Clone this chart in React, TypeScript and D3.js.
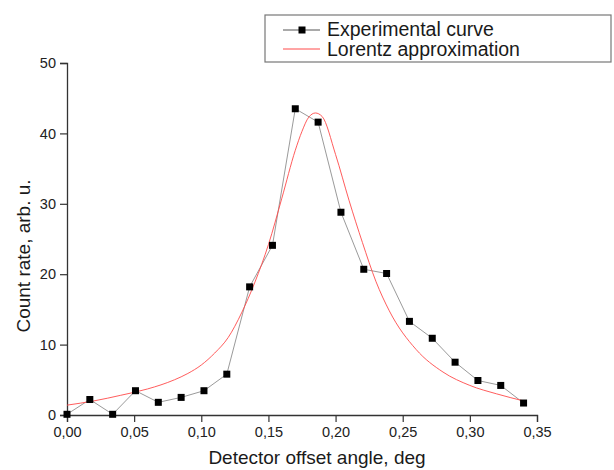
import React, { useEffect, useRef } from "react";
import * as d3 from "d3";

const WIDTH = 614;
const HEIGHT = 470;
const margin = { top: 63, right: 77, bottom: 55, left: 67 };

// experimental points
const expAngle = [0, 0.017, 0.034, 0.051, 0.068, 0.085, 0.102, 0.119, 0.136, 0.153, 0.17,
  0.187, 0.204, 0.221, 0.238, 0.255, 0.272, 0.289, 0.306, 0.323, 0.34];
const expCount = [0.1, 2.2, 0.1, 3.45, 1.8, 2.5, 3.45, 5.8, 18.2, 24.1, 43.5,
  41.6, 28.8, 20.7, 20.1, 13.3, 10.9, 7.5, 4.9, 4.2, 1.7];

// Lorentz fit
const fitAngle = [0, 0.02, 0.04, 0.06, 0.08, 0.09, 0.1, 0.11, 0.12, 0.13, 0.14, 0.15, 0.16, 0.17, 0.175,
  0.18, 0.185, 0.19, 0.2, 0.21, 0.22, 0.23, 0.24, 0.26, 0.28, 0.3, 0.32, 0.34];
const fitCount = [1.4, 2.0, 2.8, 3.7, 5.0, 5.9, 7.1, 8.8, 11.0, 14.5, 18.9, 24.2, 30.8, 37.6, 40.3,
  42.3, 42.9, 42.4, 37.0, 30.5, 24.5, 19.0, 14.8, 9.3, 6.1, 4.2, 3.0, 2.0];

const xTicks = [0, 0.05, 0.1, 0.15, 0.2, 0.25, 0.3, 0.35];
const xMinor = [0.025, 0.075, 0.125, 0.175, 0.225, 0.275, 0.325];
const yTicks = [0, 10, 20, 30, 40, 50];
const yMinor = [5, 15, 25, 35, 45];

const legendLabels = ["Experimental curve", "Lorentz approximation"];

const FONT = "'Liberation Sans', Arial, sans-serif";

export default function App() {
  const ref = useRef<SVGSVGElement>(null);

  useEffect(() => {
    const svg = d3.select(ref.current);
    svg.selectAll("*").remove();

    const x = d3.scaleLinear().domain([0, 0.35]).range([margin.left, WIDTH - margin.right]);
    const y = d3.scaleLinear().domain([0, 50]).range([HEIGHT - margin.bottom, margin.top]);
    const comma = (d: number) => d3.format(".2f")(d).replace(".", ",");

    // x axis
    const gx = svg.append("g").attr("transform", `translate(0,${y(0)})`);
    gx.call(d3.axisBottom(x).tickValues(xMinor).tickSize(4).tickFormat(() => ""));
    gx.call(d3.axisBottom(x).tickValues(xTicks).tickSize(7).tickPadding(5).tickFormat((d) => comma(+d)));

    // y axis
    const gy = svg.append("g").attr("transform", `translate(${x(0)},0)`);
    gy.call(d3.axisLeft(y).tickValues(yMinor).tickSize(4).tickFormat(() => ""));
    gy.call(d3.axisLeft(y).tickValues(yTicks).tickSize(7).tickPadding(4).tickFormat(d3.format("d")));

    svg.selectAll(".domain").attr("stroke", "#333").attr("stroke-width", 1.3);
    svg.selectAll(".tick line").attr("stroke", "#333").attr("stroke-width", 1.2);
    svg.selectAll(".tick text").attr("fill", "#222").style("font-family", FONT).style("font-size", "14.5px");

    // experimental line
    const expData = expAngle.map((a, i) => [a, expCount[i]] as [number, number]);
    const line = d3.line<[number, number]>().x((d) => x(d[0])).y((d) => y(d[1]));
    svg.append("path").datum(expData).attr("d", line).attr("fill", "none")
      .attr("stroke", "#9a9a9a").attr("stroke-width", 1);

    // lorentz
    const fitData = fitAngle.map((a, i) => [a, fitCount[i]] as [number, number]);
    const smooth = d3.line<[number, number]>().x((d) => x(d[0])).y((d) => y(d[1])).curve(d3.curveMonotoneX);
    svg.append("path").datum(fitData).attr("d", smooth).attr("fill", "none")
      .attr("stroke", "#ff4a4a").attr("stroke-width", 0.9);

    const ms = 7;
    svg.append("g").selectAll("rect").data(expData).join("rect")
      .attr("x", (d) => x(d[0]) - ms / 2).attr("y", (d) => y(d[1]) - ms / 2)
      .attr("width", ms).attr("height", ms).attr("fill", "#000");

    // axis titles
    svg.append("text").attr("x", 317).attr("y", 464).attr("text-anchor", "middle")
      .style("font-family", FONT).style("font-size", "19px").attr("fill", "#1a1a1a")
      .text("Detector offset angle, deg");
    svg.append("text").attr("transform", "translate(30,256) rotate(-90)").attr("text-anchor", "middle")
      .style("font-family", FONT).style("font-size", "19px").attr("fill", "#1a1a1a")
      .text("Count rate, arb. u.");

    // legend
    const lg = svg.append("g");
    lg.append("rect").attr("x", 265).attr("y", 15).attr("width", 346).attr("height", 47)
      .attr("fill", "#fff").attr("stroke", "#777").attr("stroke-width", 1.2);
    lg.append("line").attr("x1", 283).attr("x2", 320).attr("y1", 30).attr("y2", 30)
      .attr("stroke", "#555").attr("stroke-width", 1);
    lg.append("rect").attr("x", 302 - ms / 2).attr("y", 30 - ms / 2).attr("width", ms).attr("height", ms).attr("fill", "#000");
    lg.append("line").attr("x1", 283).attr("x2", 320).attr("y1", 49).attr("y2", 49)
      .attr("stroke", "#ff4a4a").attr("stroke-width", 1);
    legendLabels.forEach((t, i) => {
      lg.append("text").attr("x", 327).attr("y", 36 + i * 20)
        .style("font-family", FONT).style("font-size", "19.5px").attr("fill", "#1a1a1a").text(t);
    });
  }, []);

  return (
    <svg ref={ref} width={WIDTH} height={HEIGHT}
      style={{ position: "absolute", left: 0, top: 0, background: "#fff" }} />
  );
}
